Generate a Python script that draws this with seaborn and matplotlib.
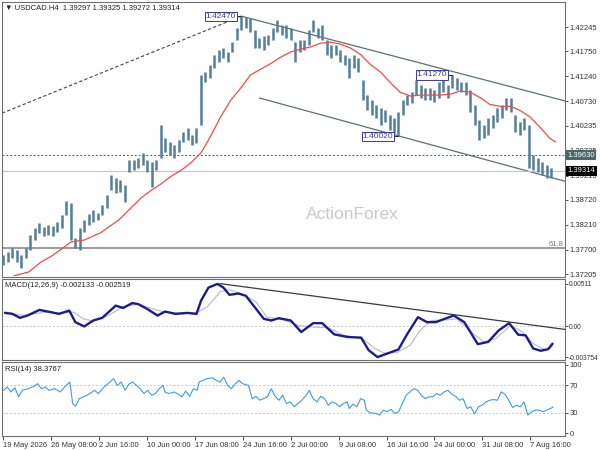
import numpy as np
import matplotlib
matplotlib.use("Agg")
import matplotlib.pyplot as plt
import matplotlib.transforms as mtransforms
import seaborn as sns

# ── price bars (every 3rd H4 bar) ──
highs = [1.3760, 1.3766, 1.3774, 1.3770, 1.3760, 1.3774, 1.3801, 1.3815, 1.3825, 1.3817,
         1.3821, 1.3819, 1.3827, 1.3841, 1.3870, 1.3866, 1.3794, 1.3815, 1.3831, 1.3843,
         1.3852, 1.3845, 1.3862, 1.3882, 1.3923, 1.3917, 1.3913, 1.3903, 1.3954, 1.3954,
         1.3958, 1.3968, 1.3954, 1.3950, 1.3954, 1.4025, 1.3998, 1.3990, 1.3984, 1.3994,
         1.4011, 1.4019, 1.4005, 1.4019, 1.4127, 1.4133, 1.4147, 1.4168, 1.4178, 1.4182,
         1.4174, 1.4194, 1.4223, 1.4247, 1.4245, 1.4243, 1.4219, 1.4202, 1.4207, 1.4209,
         1.4223, 1.4240, 1.4229, 1.4229, 1.4223, 1.4194, 1.4198, 1.4198, 1.4219, 1.4239,
         1.4223, 1.4229, 1.4198, 1.4188, 1.4188, 1.4178, 1.4168, 1.4162, 1.4168, 1.4162,
         1.4117, 1.4086, 1.4076, 1.4066, 1.4060, 1.4056, 1.4045, 1.4039, 1.4052, 1.4076,
         1.4086, 1.4092, 1.4117, 1.4107, 1.4100, 1.4100, 1.4096, 1.4113, 1.4117, 1.4107,
         1.4127, 1.4121, 1.4113, 1.4113, 1.4096, 1.4066, 1.4035, 1.4025, 1.4039, 1.4045,
         1.4060, 1.4066, 1.4080, 1.4080, 1.4045, 1.4031, 1.4039, 1.4025, 1.3964, 1.3958,
         1.3950, 1.3943, 1.3937]
lows = [1.3739, 1.3745, 1.3754, 1.3745, 1.3733, 1.3754, 1.3770, 1.3790, 1.3805, 1.3799,
        1.3801, 1.3799, 1.3807, 1.3815, 1.3841, 1.3790, 1.3774, 1.3770, 1.3807, 1.3821,
        1.3827, 1.3831, 1.3841, 1.3856, 1.3892, 1.3886, 1.3888, 1.3868, 1.3929, 1.3933,
        1.3937, 1.3943, 1.3929, 1.3899, 1.3933, 1.3958, 1.3970, 1.3964, 1.3958, 1.3970,
        1.3990, 1.3994, 1.3984, 1.3988, 1.4025, 1.4113, 1.4121, 1.4141, 1.4154, 1.4162,
        1.4154, 1.4174, 1.4198, 1.4219, 1.4223, 1.4215, 1.4182, 1.4182, 1.4178, 1.4188,
        1.4198, 1.4215, 1.4209, 1.4202, 1.4198, 1.4154, 1.4174, 1.4178, 1.4188, 1.4215,
        1.4202, 1.4198, 1.4168, 1.4162, 1.4168, 1.4154, 1.4147, 1.4121, 1.4141, 1.4133,
        1.4076, 1.4056, 1.4045, 1.4039, 1.4025, 1.4031, 1.4015, 1.4009, 1.4002, 1.4045,
        1.4066, 1.4070, 1.4086, 1.4080, 1.4076, 1.4076, 1.4072, 1.4080, 1.4092, 1.4080,
        1.4100, 1.4096, 1.4092, 1.4086, 1.4052, 1.4025, 1.3994, 1.3998, 1.4005, 1.4019,
        1.4031, 1.4039, 1.4056, 1.4052, 1.4011, 1.4005, 1.4015, 1.3937, 1.3933, 1.3929,
        1.3923, 1.3917, 1.3917]
bar_step = 3

# ── moving average (red) ──
ma_idx = [7, 17, 25, 32, 39, 45, 54, 65, 77, 83, 92, 99, 105, 112, 119, 125, 132, 137, 141, 145,
          152, 159, 165, 172, 179, 185, 192, 199, 205, 212, 219, 225, 232, 239, 245, 252, 259, 265,
          272, 279, 292, 299, 305, 312, 319, 325, 332, 339, 345, 352, 359, 365, 369]
ma_val = [1.3717, 1.3725, 1.3745, 1.3757, 1.3772, 1.3786, 1.3790, 1.3805, 1.3831, 1.3849,
          1.3876, 1.3892, 1.3904, 1.3920, 1.3933, 1.3947, 1.3968, 1.3994, 1.4017, 1.4041,
          1.4076, 1.4102, 1.4127, 1.4139, 1.4151, 1.4163, 1.4174, 1.4180, 1.4184, 1.4192,
          1.4194, 1.4190, 1.4182, 1.4168, 1.4149, 1.4133, 1.4110, 1.4092, 1.4084, 1.4086,
          1.4086, 1.4088, 1.4094, 1.4092, 1.4080, 1.4067, 1.4063, 1.4063, 1.4055, 1.4041,
          1.4019, 1.3998, 1.3990]

# ── MACD(12,26,9) ──
macd_idx = [1, 6, 11, 16, 24, 32, 37, 44, 48, 54, 60, 66, 75, 80, 86, 90, 96, 103, 108, 115,
            123, 129, 132, 137, 143, 147, 151, 157, 162, 168, 174, 179, 184, 192, 199, 207, 213,
            221, 230, 239, 244, 250, 258, 264, 270, 277, 283, 289, 296, 301, 308, 317, 324, 331,
            338, 344, 349, 354, 359, 364, 367]
macd_val = [0.00160, 0.00148, 0.00100, 0.00128, 0.00196, 0.00168, 0.00148, 0.00188, 0.00048, -0.00004,
            0.00068, 0.00100, 0.00248, 0.00220, 0.00279, 0.00267, 0.00208, 0.00128, 0.00176, 0.00148,
            0.00160, 0.00148, 0.00307, 0.00467, 0.00511, 0.00467, 0.00379, 0.00395, 0.00367, 0.00228,
            0.00088, 0.00068, 0.00096, 0.00068, -0.00072, 0.00036, 0.00036, -0.00100, -0.00132, -0.00140,
            -0.00291, -0.003754, -0.00323, -0.00283, -0.00092, 0.00108, 0.00048, 0.00048, 0.00096, 0.00128,
            0.00048, -0.00219, -0.00191, -0.00052, 0.00036, -0.00104, -0.00112, -0.00271, -0.00299, -0.00280,
            -0.002133]
signal_idx = [1, 14, 27, 39, 47, 53, 60, 70, 80, 90, 100, 108, 118, 128, 136, 145, 151, 161, 169, 176,
              187, 197, 207, 217, 227, 240, 248, 255, 263, 272, 278, 286, 296, 303, 314, 321, 329, 339,
              347, 354, 362, 367]
signal_val = [0.00168, 0.00128, 0.00168, 0.00160, 0.00168, 0.00090, 0.00060, 0.00128, 0.00236, 0.00267,
              0.00208, 0.00168, 0.00156, 0.00156, 0.00230, 0.00420, 0.00440, 0.00379, 0.00288, 0.00108,
              0.00076, 0.00008, -0.00012, -0.00020, -0.00111, -0.00151, -0.00270, -0.00330, -0.00320, -0.00230,
              -0.00060, 0.00068, 0.00076, 0.00088, -0.00092, -0.00191, -0.00151, 0.00008, -0.00072, -0.00211,
              -0.00291, -0.002519]

# ── RSI(14) ──
rsi_idx = [0, 2.5, 5, 7.6, 10.1, 12.6, 16.4, 20.3, 22.8, 25.3, 27.9, 30.4, 34.2, 38, 41.8, 44.4,
           46.2, 48.2, 50.7, 53.3, 55.8, 58.4, 60.9, 63.4, 67.2, 71, 73.6, 76.1, 78.7, 81.2, 83.7,
           86.3, 88.8, 91.4, 93.9, 96.4, 99, 101.5, 104.1, 106.6, 107.9, 110.4, 114.2, 116.8, 119.3,
           121.8, 124.4, 126.9, 129.5, 130.7, 133.3, 135.8, 139.6, 142.2, 144.7, 147.2, 149.8, 152.3,
           154.9, 157.4, 159.9, 163.7, 166.3, 168.8, 171.4, 173.9, 176.4, 179, 181.5, 184.1, 186.6,
           189.1, 191.7, 194.2, 196.8, 199.3, 201.8, 204.4, 206.9, 209.5, 212, 214.5, 217.1, 219.6,
           222.2, 224.7, 227.2, 229.8, 231, 233.6, 236.1, 238.7, 241.2, 242.5, 245, 248.8, 251.4,
           253.9, 256.4, 259, 261.5, 264.1, 266.6, 269.1, 271.7, 274.2, 276.8, 279.3, 281.8, 284.4,
           286.9, 289.5, 292, 294.5, 297.1, 299.6, 302.2, 304.7, 307.2, 309.8, 312.3, 314.9, 317.4,
           319.9, 322.5, 325, 327.6, 330.1, 332.7, 335.2, 337.7, 340.3, 342.8, 345.4, 347.9, 350.4,
           353, 355.5, 358, 360.6, 363.1, 365.7, 367.4]
rsi_val = [62.7, 67.5, 60.3, 66.5, 53.1, 62.7, 65.1, 68.5, 72.3, 65.1, 67.5, 62.7, 65.1, 60.3, 69.9, 74.7,
           43.4, 39.6, 50.6, 53.1, 55.5, 58.8, 62.7, 57.9, 67.5, 74.7, 79.6, 69.9, 74.7, 62.7, 71.4,
           74.7, 69.9, 65.1, 57.9, 62.7, 55.5, 57.9, 65.1, 69.9, 60.3, 57.9, 60.3, 56.9, 53.1,
           61.7, 54.0, 65.1, 62.7, 74.7, 77.2, 79.6, 81.0, 77.2, 74.7, 82.0, 69.9, 65.1,
           72.3, 77.2, 72.3, 69.9, 50.6, 54.0, 48.2, 50.6, 53.1, 65.1, 54.0, 48.2, 55.5,
           43.4, 45.8, 38.6, 43.4, 48.2, 54.0, 62.7, 50.6, 45.8, 54.0, 50.6, 41.0, 45.8,
           43.4, 38.6, 43.4, 45.8, 36.2, 42.5, 38.6, 50.6, 48.2, 33.8, 29.9, 29.0, 26.6,
           33.8, 31.4, 34.8, 29.0, 31.4, 43.4, 55.5, 60.3, 65.1, 62.7, 55.5, 50.6, 53.1,
           53.1, 57.9, 55.5, 60.3, 62.7, 56.9, 54.0, 48.2, 50.6, 36.2, 38.6, 28.0, 38.6,
           41.0, 45.8, 48.2, 49.2, 48.2, 60.3, 56.9, 48.2, 37.6, 41.0, 38.6, 45.8, 26.6,
           31.4, 33.8, 33.8, 31.4, 33.8, 36.2, 38.38]

# ── drawn objects ──
peak_point = (159, 1.42470)
swing_low_point = (264, 1.40020)
swing_high_point = (300, 1.41270)
left_dash = [(-1, 1.4049), (159, 1.4247)]
channel_top = [(159, 1.4247), (375.3, 1.4074)]
channel_bottom = [(171, 1.4080), (375.3, 1.3910)]
macd_trend = [(144.7, 0.00515), (375.3, -0.00040)]
level_dashed = 1.39630
level_last = 1.39314
level_fib = 1.37740

price_ticks = [1.42245, 1.41750, 1.41240, 1.40730, 1.40235, 1.39725, 1.39215,
               1.38720, 1.38210, 1.37700, 1.37205]
date_labels = ["19 May 2026", "26 May 08:00", "2 Jun 16:00", "10 Jun 00:00", "17 Jun 08:00",
               "24 Jun 16:00", "2 Jul 00:00", "9 Jul 08:00", "16 Jul 16:00", "24 Jul 00:00",
               "31 Jul 08:00", "7 Aug 16:00"]
bars_per_label = 32

sns.set_theme(style="white")
plt.rcParams['font.family'] = ['Liberation Sans', 'DejaVu Sans']
plt.rcParams['font.size'] = 5.5

fig = plt.figure(figsize=(6, 4.5), dpi=100)


def rect(top, bottom, left=2, right=565):
    return [left / 600, 1 - bottom / 450, (right - left) / 600, (bottom - top) / 450]


ax = fig.add_axes(rect(2, 277))
ax_m = fig.add_axes(rect(279, 360))
ax_r = fig.add_axes(rect(362, 436))

for a in (ax, ax_m, ax_r):
    a.set_xlim(-1, 375.3)
    a.set_facecolor("white")
    for s in a.spines.values():
        s.set_color("#707070")
        s.set_linewidth(0.8)
    a.yaxis.tick_right()
    a.tick_params(axis="y", direction="out", length=2.5, width=0.6, pad=1,
                  colors="#333333", labelsize=5.5, right=True, left=False)
    a.tick_params(axis="x", bottom=False, labelbottom=False)

# main panel
bar_x = np.arange(len(highs)) * bar_step
ax.vlines(bar_x, lows, highs, color="#527f99", lw=1.8, zorder=3)
sns.lineplot(x=ma_idx, y=ma_val, ax=ax, color="#f24b4b", lw=0.9, sort=False, zorder=4)
ax.plot(*zip(*left_dash), color="#444444", lw=0.8, dashes=(3, 2))
ax.plot(*zip(*channel_top), color="#587272", lw=0.9)
ax.plot(*zip(*channel_bottom), color="#587272", lw=0.9)
ax.axhline(level_dashed, color="#555555", lw=0.7, dashes=(2, 2))
ax.axhline(level_last, color="#c4c4c4", lw=0.8)
ax.axhline(level_fib, color="#8a8a8a", lw=1.2)
ax.set_ylim(1.37145, 1.4276)
ax.set_yticks(price_ticks)
ax.set_yticklabels([f"{t:.5f}" for t in price_ticks])

tr = mtransforms.blended_transform_factory(ax.transAxes, ax.transData)
ax.text(1.004, level_dashed, f"{level_dashed:.5f}", transform=tr, ha="left", va="center",
        color="white", fontsize=5.5, clip_on=False, zorder=10,
        bbox=dict(facecolor="#4b6666", edgecolor="none", pad=1.2))
ax.text(1.004, level_last, f"{level_last:.5f}", transform=tr, ha="left", va="center",
        color="white", fontsize=5.5, clip_on=False, zorder=10,
        bbox=dict(facecolor="black", edgecolor="none", pad=1.2))
ax.text(0.997, level_fib, "61.8", transform=tr, ha="right", va="bottom",
        color="#777777", fontsize=5.5)

for (px, py) in (peak_point, swing_low_point, swing_high_point):
    ax.plot([px - 3.5, px], [py, py], color="#333333", lw=0.8, zorder=5)
    ax.text(px - 3.5, py, f"{py:.5f}", ha="right", va="center", color="#3a3aa0",
            fontsize=6, zorder=6,
            bbox=dict(facecolor="white", edgecolor="#3a3aa0", lw=0.7, pad=0.8))

ax.text(0.006, 0.99, "▼ USDCAD.H4  1.39297 1.39325 1.39272 1.39314", transform=ax.transAxes,
        ha="left", va="top", fontsize=5.5, color="#222222")
ax.text(0.622, 0.229, "ActionForex", transform=ax.transAxes, ha="center", va="center",
        fontsize=12.5, color="#c9c9c9", zorder=1)

# MACD panel
ax_m.axhline(0, color="#c8c8c8", lw=0.7, dashes=(2, 2))
sns.lineplot(x=signal_idx, y=signal_val, ax=ax_m, color="#c0c0c0", lw=0.9, sort=False)
sns.lineplot(x=macd_idx, y=macd_val, ax=ax_m, color="#1c1c8e", lw=1.7, sort=False)
ax_m.plot(*zip(*macd_trend), color="#3a3a3a", lw=0.9)
ax_m.set_ylim(-0.00411, 0.00571)
ax_m.set_yticks([0.00511, 0.0, -0.003754])
ax_m.set_yticklabels(["0.00511", "0.00", "-0.003754"])
ax_m.tick_params(axis="y", labelsize=4.8, pad=0.5, length=2)
ax_m.text(0.006, 0.96, "MACD(12,26,9) -0.002133 -0.002519", transform=ax_m.transAxes,
          ha="left", va="top", fontsize=5.5, color="#222222")

# RSI panel
for lvl in (70, 30):
    ax_r.axhline(lvl, color="#c8c8c8", lw=0.7, dashes=(2, 2))
sns.lineplot(x=rsi_idx, y=rsi_val, ax=ax_r, color="#3d9be9", lw=0.8, sort=False)
ax_r.set_ylim(-4, 104)
ax_r.set_yticks([100, 70, 30, 0])
ax_r.set_yticklabels(["100", "70", "30", "0"])
ax_r.text(0.006, 0.95, "RSI(14) 38.3767", transform=ax_r.transAxes,
          ha="left", va="top", fontsize=5.5, color="#222222")

date_pos = np.arange(len(date_labels)) * bars_per_label
ax_r.set_xticks(date_pos)
ax_r.set_xticklabels(date_labels)
ax_r.tick_params(axis="x", bottom=True, labelbottom=True, direction="out", length=3,
                 width=0.6, pad=1, colors="#333333", labelsize=5.5)
for lab in ax_r.get_xticklabels():
    lab.set_ha("left")

for a in (ax, ax_m, ax_r):
    a.set_xlabel("")
    a.set_ylabel("")

fig.savefig("out.png", dpi=100, facecolor="white")
